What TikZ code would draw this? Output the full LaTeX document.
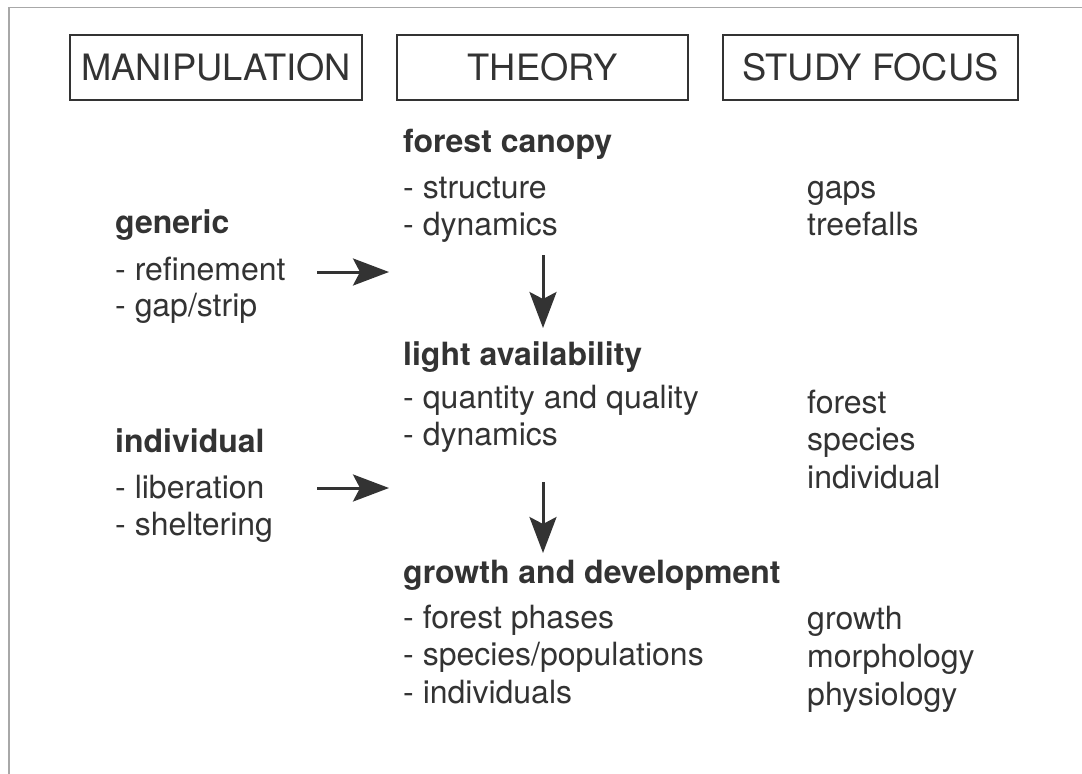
\documentclass[tikz,border=0pt]{standalone}
\usepackage{fontspec}
\setmainfont{TeX Gyre Heros}
\usetikzlibrary{arrows.meta}
\definecolor{ink}{HTML}{333333}
\definecolor{rim}{HTML}{A8A8A8}
\begin{document}
\begin{tikzpicture}[x=1pt,y=-1pt,
  hdr/.style={draw=ink, line width=1.8pt, minimum height=65pt, inner sep=0pt,
    text=ink, font=\fontsize{36.3}{40}\selectfont},
  head/.style={anchor=base west, inner sep=0pt, text=ink,
    font=\fontsize{32}{38}\selectfont\bfseries},
  item/.style={anchor=base west, inner sep=0pt, text=ink,
    font=\fontsize{32}{38}\selectfont},
  flow/.style={draw=ink, line width=3pt,
    -{Stealth[length=36pt,width=27pt,inset=7pt]}}]
\useasboundingbox (0,0) rectangle (1082,774);
\fill[white] (0,0) rectangle (1082,774);
% page edge
\draw[rim, line width=1.2pt] (9,774) -- (9,7.5) -- (1082,7.5);

% column headers
\node[hdr, minimum width=292pt] (manip)  at (216,67.5)   {MANIPULATION};
\node[hdr, minimum width=291pt] (theory) at (542.5,67.5) {THEORY};
\node[hdr, minimum width=295pt] (focus)  at (870.5,67.5) {STUDY FOCUS};

% manipulation column
\node[head] (generic)  at (115,233) {generic};
\node[item] (refine)   at (115,280) {- refinement};
\node[item] (gapstrip) at (115,316) {- gap/strip};
\node[head] (indiv)    at (115,452) {individual};
\node[item] (liber)    at (115,498) {- liberation};
\node[item] (shelter)  at (115,535) {- sheltering};

% theory column
\node[head] (canopy)  at (403,152) {forest canopy};
\node[item] (struct)  at (403,198) {- structure};
\node[item] (dyn1)    at (403,235) {- dynamics};
\node[head] (light)   at (403,365) {light availability};
\node[item] (quant)   at (403,408) {- quantity and quality};
\node[item] (dyn2)    at (403,445) {- dynamics};
\node[head] (growth)  at (403,583) {growth and development};
\node[item] (phases)  at (403,628) {- forest phases};
\node[item] (species) at (403,665) {- species/populations};
\node[item] (indivs)  at (403,703) {- individuals};

% study focus column
\node[item] (gaps)    at (807,198) {gaps};
\node[item] (falls)   at (807,235) {treefalls};
\node[item] (fforest) at (807,413) {forest};
\node[item] (fspec)   at (807,450) {species};
\node[item] (findiv)  at (807,488) {individual};
\node[item] (fgrowth) at (807,629) {growth};
\node[item] (fmorph)  at (807,667) {morphology};
\node[item] (fphys)   at (807,705) {physiology};

% arrow end points
\coordinate (g0) at (317,272);
\coordinate (g1) at (389,272);
\coordinate (i0) at (317,488);
\coordinate (i1) at (389,488);
\coordinate (c0) at (543,255);
\coordinate (c1) at (543,328);
\coordinate (l0) at (543,482);
\coordinate (l1) at (543,553);

\draw[flow] (g0) -- (g1);
\draw[flow] (i0) -- (i1);
\draw[flow] (c0) -- (c1);
\draw[flow] (l0) -- (l1);
\end{tikzpicture}
\end{document}
